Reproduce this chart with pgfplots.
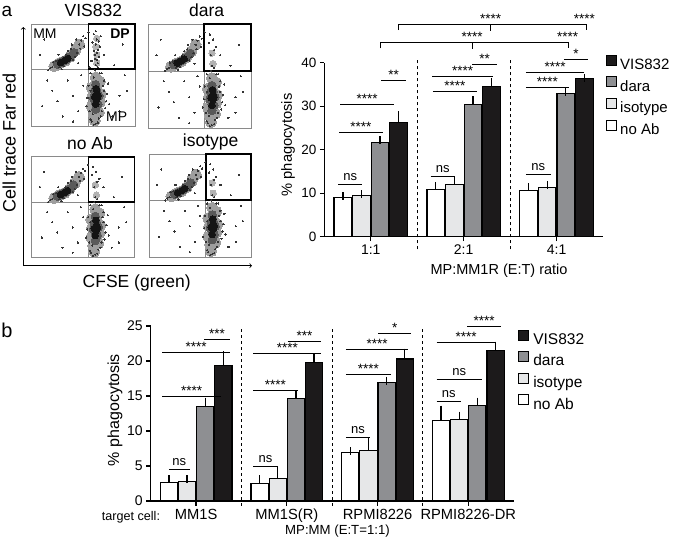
\documentclass[border=0pt]{standalone}
\usepackage{fontspec}
\setmainfont{Liberation Sans}
\usepackage{pgfplots}
\pgfplotsset{compat=1.18}
\usepackage{pgfplotstable}

\newcommand{\fs}[1]{\fontsize{#1bp}{#1bp}\selectfont}
\definecolor{cvis}{HTML}{1C1A1B}
\definecolor{cdara}{HTML}{8E8F92}
\definecolor{ciso}{HTML}{E6E7E8}
\definecolor{cno}{HTML}{FFFFFF}
\definecolor{frame}{HTML}{8A8A8A}

% ---------- panel a bar data ----------
\pgfplotstableread{
x y e
-0.3 9.0 0.35
0.7 10.9 0.7
1.7 10.7 0.7
}\anoab
\pgfplotstableread{
x y e
-0.1 9.4 0.4
0.9 12.0 0.7
1.9 11.3 0.6
}\aiso
\pgfplotstableread{
x y e
0.1 21.7 0.5
1.1 30.4 1.0
2.1 32.9 0.3
}\adara
\pgfplotstableread{
x y e
0.3 26.3 1.6
1.3 34.5 1.1
2.3 36.4 0.1
}\avis
% ---------- panel b bar data ----------
\pgfplotstableread{
x y e
-0.3 2.6 0.5
0.7 2.5 0.6
1.7 6.95 0.15
2.7 11.5 1.55
}\bnoab
\pgfplotstableread{
x y e
-0.1 2.8 0.3
0.9 3.2 1.1
1.9 7.2 1.2
2.9 11.6 0.6
}\biso
\pgfplotstableread{
x y e
0.1 13.5 0.7
1.1 14.7 0.4
2.1 16.95 0.25
3.1 13.6 0.6
}\bdara
\pgfplotstableread{
x y e
0.3 19.4 1.4
1.3 19.8 0.7
2.3 20.3 0.9
3.3 21.5 0.7
}\bvis
% ---------- flow cytometry clouds (panel percent) ----------
% outer halo of the two populations
\pgfplotstableread{
x y
22 59
27 62
32 64
37 68
42 74
46 80
61 6
62 13
62 20
63 27
64 34
63 41
62 48
66 24
59 30
58 20
67 32
58 38
66 44
60 12
65 14
}\fhalo
% middle density
\pgfplotstableread{
x y
25 61
29 63
33 65
37 68
41 72
62 17
62 23
63 29
63 35
62 41
60 28
65 30
64 22
61 34
}\fmid
% dense cores
\pgfplotstableread{
x y
28 62.5
32 64.5
35 66.5
62 22
63 27
63 32
62.5 37
61 29
64 30
}\fcore
\pgfplotstableread{
x y
20 58
18 57
24 64
26 70
40 65
42 68
46 80
48 84
50 88
38 76
35 74
27 58
31 59
44 72
47 76
52 86
21 63
16 55
39 80
43 85
55 40
57 35
70 35
72 25
68 15
56 15
58 5
64 4
60 48
66 52
70 45
54 28
73 32
67 10
61 55
64 58
57 52
69 40
62 3
59 12
71 18
75 22
53 20
10 20
20 35
30 10
40 30
45 15
15 45
35 45
80 60
85 30
90 50
78 10
88 80
25 25
48 50
50 40
8 70
12 85
85 15
92 35
40 5
33 70
29 56
45 62
51 78
55 92
57 7
60 2
65 8
68 52
74 42
}\fc
\pgfplotstableread{
x y
62 60
63 65
61 70
64 75
62 80
63 85
60 90
65 68
58 64
66 78
62 93
64 62
60 74
67 88
59 82
70 70
56 58
63 72
61 66
65 83
}\fd
\pgfplotstableread{
x y
62 60
61 70
64 75
63 85
60 90
66 78
59 82
70 70
}\fe
\pgfplotstableread{
x y
63 62
63 70
62 78
63 86
}\fdh
\pgfplotstableread{
x y
63 62
62 72
}\feh

\pgfplotsset{
  flowax/.style={scale only axis, anchor=south west, xmin=0, xmax=100, ymin=0, ymax=100,
    ticks=none, axis line style={draw=frame, line width=0.8bp}, clip=false},
  dot/.style={only marks, mark=*, mark options={draw=#1, fill=#1, line width=0pt}},
  barax/.style={scale only axis, anchor=south west, axis lines=left,
    axis line style={line width=1.2bp, -}, tick style={line width=1.2bp, black},
    tick align=outside, major tick length=4.5bp, ymin=0, clip=false,
    /pgf/number format/assume math mode=true, enlargelimits=false,
    legend cell align=left, reverse legend,
    legend image code/.code={\draw[##1, line width=1bp] (0bp,0.3bp) rectangle (10bp,10.3bp);}},
  barplot/.style={ybar, bar width=0.19, bar shift=0pt, draw=black, line width=1.2bp,
    error bars/y dir=plus, error bars/y explicit,
    error bars/error bar style={line width=1.3bp, black, fill=none},
    error bars/error mark options={line width=1.3bp, black, mark size=4bp}},
}

\newcommand{\sig}[4]{\draw[line width=1bp] (axis cs:#1,#3) -- node[anchor=base, yshift=1bp, inner sep=0pt, font=\fs{13.5}]{#4} (axis cs:#2,#3);}
\newcommand{\ns}[3]{\draw[line width=1bp] (axis cs:#1,#3) -- node[anchor=base, yshift=4bp, inner sep=0pt, font=\fs{13}]{ns} (axis cs:#2,#3);}

\newcommand{\flowpanel}[8]{%
\begin{axis}[flowax, at={(#1bp,#2bp)}, width=#3bp, height=#4bp]
\addplot[dot=black!30, mark size=3.2bp] table{#8};
\addplot[dot=black!38, mark size=5.5bp] table{\fhalo};
\addplot[dot=black!65, mark size=4.2bp] table{\fmid};
\addplot[dot=black!92, mark size=3.3bp] table{\fcore};
\addplot[dot=black!80, mark size=0.6bp] table{\fc};
\addplot[dot=black!80, mark size=0.65bp] table{#7};
\draw[frame, line width=0.7bp] (axis cs:#5,0) -- (axis cs:#5,100);
\draw[frame, line width=0.7bp] (axis cs:0,#6) -- (axis cs:100,#6);
\draw[black, line width=1.6bp] (axis cs:#5,#6) rectangle (axis cs:100,100);
\end{axis}}

\begin{document}
\begin{tikzpicture}
\path[use as bounding box] (0bp,0bp) rectangle (674bp,-543bp);

% ================= panel a: flow plots =================
\node[font=\fs{19}] at (7bp,-11bp) {a};
\flowpanel{31.7}{-126.7}{103.3}{102.7}{54.8}{56}{\fd}{\fdh}
\flowpanel{148.3}{-128.3}{102.7}{104.3}{54.2}{55}{\fe}{\feh}
\flowpanel{31.7}{-257.7}{102.6}{101}{55.3}{55}{\fe}{\feh}
\flowpanel{149}{-257.3}{102}{103.3}{55.6}{55.5}{\fe}{\feh}
\node[font=\fs{17.5}] at (93.3bp,-10.5bp) {VIS832};
\node[font=\fs{17.5}] at (206.7bp,-10.5bp) {dara};
\node[font=\fs{17.5}] at (90bp,-143.5bp) {no Ab};
\node[font=\fs{17.5}] at (210.7bp,-142bp) {isotype};
\node[font=\fs{14}] at (45bp,-33.3bp) {MM};
\node[font=\bfseries\fs{14}] at (120bp,-33.3bp) {DP};
\node[font=\fs{14}] at (116.7bp,-116.7bp) {MP};
\draw[line width=0.8bp, ->] (23.3bp,-266bp) -- (23.3bp,-27bp);
\draw[line width=0.8bp, ->] (23.3bp,-265.7bp) -- (252bp,-265.7bp);
\node[font=\fs{18}, rotate=90] at (9.3bp,-143bp) {Cell trace Far red};
\node[font=\fs{17.5}] at (136.7bp,-283.3bp) {CFSE (green)};

% ================= panel a: bar chart =================
\begin{axis}[barax, at={(324.3bp,-236.7bp)}, width=278.7bp, height=174bp,
  xmin=-0.5, xmax=2.5, ymax=40, ytick={0,10,20,30,40},
  xtick={0,1,2}, xticklabels={1:1,2:1,4:1},
  xticklabel style={font=\fs{14}}, yticklabel style={font=\fs{13.5}},
  legend style={at={(1.0097,1.045)}, anchor=north west, draw=none, fill=none,
    inner sep=0pt, outer sep=0pt, row sep=3.8bp, font=\fs{15},
    nodes={inner sep=0pt, text height=11bp, text depth=3bp},
    /tikz/every odd column/.append style={column sep=3.5bp}}]
\addplot[barplot, fill=cno] table[x=x, y=y, y error=e]{\anoab};
\addplot[barplot, fill=ciso] table[x=x, y=y, y error=e]{\aiso};
\addplot[barplot, fill=cdara] table[x=x, y=y, y error=e]{\adara};
\addplot[barplot, fill=cvis] table[x=x, y=y, y error=e]{\avis};
\legend{no Ab, isotype, dara, VIS832}
\draw[line width=1bp, dash pattern=on 3bp off 3bp] (axis cs:0.5,-2.9) -- (axis cs:0.5,40.8);
\draw[line width=1bp, dash pattern=on 3bp off 3bp] (axis cs:1.5,-2.9) -- (axis cs:1.5,40.8);
\ns{-0.35}{-0.09}{11.9}
\sig{-0.34}{0.13}{23.9}{****}
\sig{-0.33}{0.25}{30.4}{****}
\sig{0.115}{0.38}{36.0}{**}
\ns{0.645}{0.905}{13.9}
\sig{0.67}{1.14}{33.3}{****}
\sig{0.66}{1.32}{36.9}{****}
\sig{1.09}{1.36}{39.5}{**}
\ns{1.67}{1.935}{14.3}
\sig{1.67}{2.13}{34.3}{****}
\sig{1.67}{2.30}{37.7}{****}
\sig{2.08}{2.34}{40.8}{*}
% comparison brackets
\draw[line width=1bp] (axis cs:0.3,47.5) -- (axis cs:0.3,48.8) -- (axis cs:2.32,48.8) -- (axis cs:2.32,47.5);
\draw[line width=1bp] (axis cs:1.29,48.8) -- (axis cs:1.29,47.4);
\node[anchor=base, yshift=1bp, inner sep=0pt, font=\fs{13.5}] at (axis cs:1.29,48.8) {****};
\node[anchor=base, yshift=1bp, inner sep=0pt, font=\fs{13.5}] at (axis cs:2.30,48.8) {****};
\draw[line width=1bp] (axis cs:0.11,43.3) -- (axis cs:0.11,44.7) -- (axis cs:2.13,44.7) -- (axis cs:2.13,43.3);
\draw[line width=1bp] (axis cs:1.10,44.7) -- (axis cs:1.10,43.2);
\node[anchor=base, yshift=1bp, inner sep=0pt, font=\fs{13.5}] at (axis cs:1.09,44.7) {****};
\node[anchor=base, yshift=1bp, inner sep=0pt, font=\fs{13.5}] at (axis cs:2.12,44.7) {****};
\end{axis}
\node[font=\fs{14.7}, rotate=90] at (288bp,-145bp) {\% phagocytosis};
\node[font=\fs{14.5}] at (499bp,-270.5bp) {MP:MM1R (E:T) ratio};

% ================= panel b =================
\node[font=\fs{20}] at (7bp,-330bp) {b};
\begin{axis}[barax, at={(150.7bp,-501bp)}, width=363bp, height=175bp,
  xmin=-0.5, xmax=3.5, ymax=25, ytick={0,5,10,15,20,25},
  xtick={0,1,2,3}, xticklabels={MM1S,MM1S(R),RPMI8226,RPMI8226-DR},
  xticklabel style={font=\fs{14.7}}, yticklabel style={font=\fs{14}},
  legend style={at={(1.0127,0.98)}, anchor=north west, draw=none, fill=none,
    inner sep=0pt, outer sep=0pt, row sep=3.8bp, font=\fs{15.5},
    nodes={inner sep=0pt, text height=11bp, text depth=3bp},
    /tikz/every odd column/.append style={column sep=4bp}}]
\addplot[barplot, fill=cno] table[x=x, y=y, y error=e]{\bnoab};
\addplot[barplot, fill=ciso] table[x=x, y=y, y error=e]{\biso};
\addplot[barplot, fill=cdara] table[x=x, y=y, y error=e]{\bdara};
\addplot[barplot, fill=cvis] table[x=x, y=y, y error=e]{\bvis};
\legend{no Ab, isotype, dara, VIS832}
\draw[line width=1bp, dash pattern=on 3bp off 3bp] (axis cs:0.5,-0.7) -- (axis cs:0.5,25);
\draw[line width=1bp, dash pattern=on 3bp off 3bp] (axis cs:1.5,-0.7) -- (axis cs:1.5,25);
\draw[line width=1bp, dash pattern=on 3bp off 3bp] (axis cs:2.5,-0.7) -- (axis cs:2.5,25);
\ns{-0.30}{-0.07}{4.43}
\sig{-0.37}{0.27}{15.0}{****}
\sig{-0.37}{0.37}{21.2}{****}
\sig{0.09}{0.37}{23.1}{***}
\ns{0.63}{0.90}{5.0}
\sig{0.63}{1.12}{15.8}{****}
\sig{0.63}{1.38}{21.1}{****}
\sig{1.01}{1.38}{22.8}{***}
\ns{1.65}{1.92}{9.05}
\sig{1.65}{2.15}{18.1}{****}
\sig{1.65}{2.34}{21.7}{****}
\sig{2.01}{2.37}{24.0}{*}
\ns{2.65}{2.92}{14.2}
\ns{2.65}{3.15}{17.4}
\sig{2.65}{3.30}{22.7}{****}
\sig{2.99}{3.36}{24.9}{****}
\end{axis}
\node[font=\fs{16}, rotate=90] at (115bp,-410bp) {\% phagocytosis};
\node[font=\fs{12.6}, anchor=base west, inner sep=0pt] at (101.7bp,-520.5bp) {target cell:};
\node[font=\fs{13.2}] at (337.5bp,-531.5bp) {MP:MM (E:T=1:1)};
\end{tikzpicture}
\end{document}
